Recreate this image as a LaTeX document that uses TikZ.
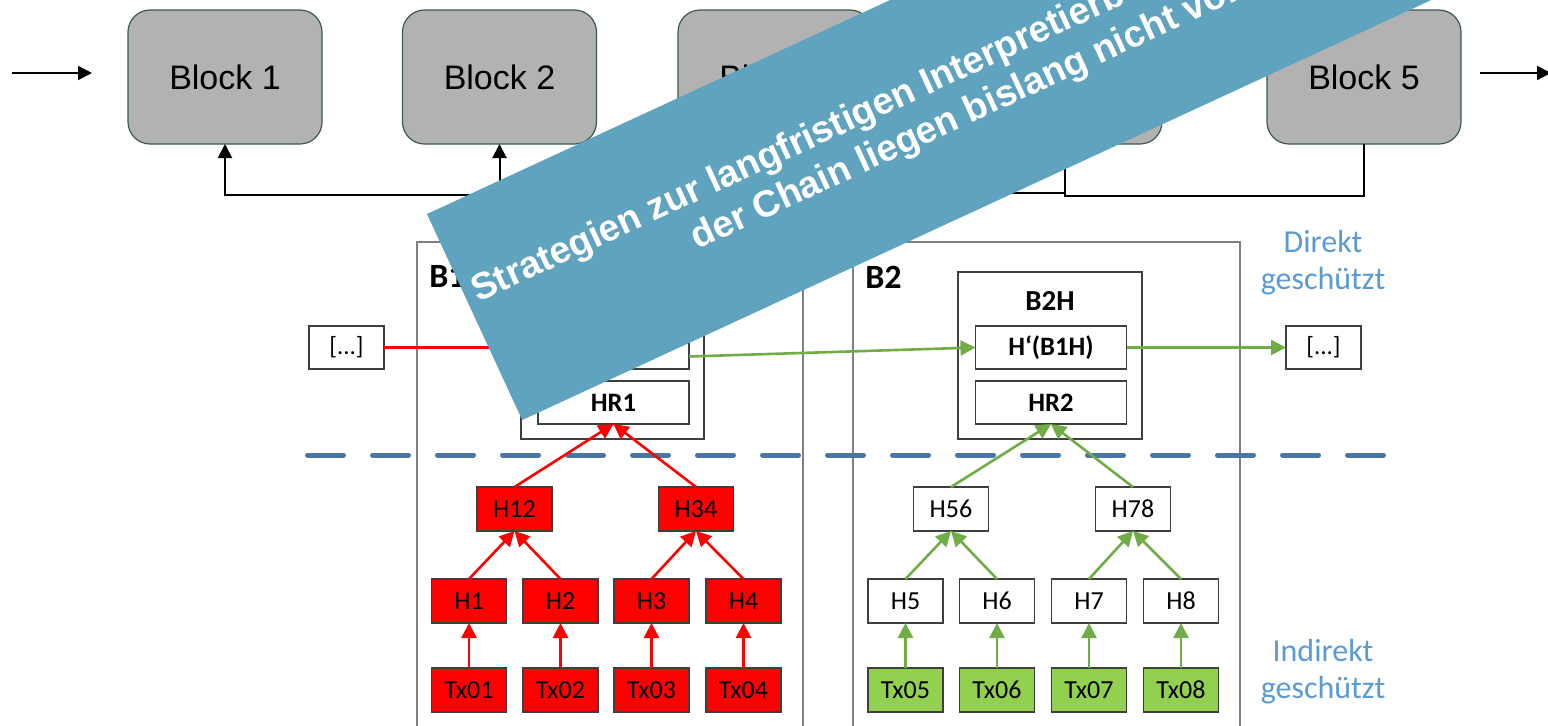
\documentclass[tikz,border=0pt]{standalone}
\usepackage{fontspec}
\setmainfont{Carlito}
\newfontfamily\arialf{Liberation Sans}
\usetikzlibrary{arrows.meta,calc}
\definecolor{blkgray}{HTML}{B2B2B2}
\definecolor{blkborder}{HTML}{3C5A4A}
\definecolor{bannerc}{HTML}{5FA3BF}
\definecolor{redc}{HTML}{FF0000}
\definecolor{greenl}{HTML}{70AD47}
\definecolor{greenf}{HTML}{92D050}
\definecolor{bluet}{HTML}{5B9BD5}
\definecolor{dashc}{HTML}{4A76A6}
\definecolor{outerc}{HTML}{7F7F7F}
\definecolor{innerc}{HTML}{3F3F3F}
\begin{document}
\begin{tikzpicture}[x=0.5pt,y=-0.5pt,
  blk/.style={draw=blkborder,line width=0.6pt,fill=blkgray,rounded corners=11pt,
    minimum width=97pt,minimum height=67pt,inner sep=0pt,outer sep=0pt,
    font=\arialf\fontsize{17}{20}\selectfont},
  blkarrow/.style={line width=1pt,-{Triangle[length=7pt,width=7pt]}},
  outerbox/.style={draw=outerc,line width=0.8pt,fill=white,inner sep=0pt,outer sep=0pt},
  innerbox/.style={draw=innerc,line width=0.8pt,fill=white,inner sep=0pt,outer sep=0pt},
  hbox/.style={draw=innerc,line width=0.8pt,fill=white,inner sep=0pt,outer sep=0pt,
    minimum width=75.5pt,minimum height=21.5pt,font=\bfseries\fontsize{13.3}{15}\selectfont},
  dots/.style={draw=innerc,line width=0.8pt,fill=white,inner sep=0pt,outer sep=0pt,
    minimum width=37.5pt,minimum height=21.5pt,font=\fontsize{12.5}{14}\selectfont},
  tbox/.style={draw=innerc,line width=0.6pt,inner sep=0pt,outer sep=0pt,
    minimum width=37.5pt,minimum height=22pt,font=\fontsize{13}{15}\selectfont},
  redbox/.style={tbox,fill=redc},
  whitebox/.style={tbox,fill=white},
  greenbox/.style={tbox,fill=greenf},
  redarrow/.style={draw=redc,line width=1.3pt,-{Triangle[length=7.5pt,width=7.5pt,fill=redc]}},
  greenarrow/.style={draw=greenl,line width=1.3pt,-{Triangle[length=7.5pt,width=7.5pt,fill=greenl]}},
  side/.style={text=bluet,align=center,font=\fontsize{16}{18.5}\selectfont},
  bannertext/.style={text=white,font=\arialf\bfseries\fontsize{18.7}{22}\selectfont,
    anchor=base west,inner sep=0pt,transform shape}
]
\useasboundingbox (0,0) rectangle (1548,725);
\clip (0,0) rectangle (1548,725);
\fill[white] (0,0) rectangle (1548,725);

% ---------- top chain ----------
\node[blk] (b1) at (225,77) {Block 1};
\node[blk] (b2) at (499.5,77) {Block 2};
\node[blk] (b3) at (775,77) {Block 3};
\node[blk] (b4) at (1065,77) {Block 4};
\node[blk] (b5) at (1364,77) {Block 5};
\coordinate (inL) at (12,73);
\coordinate (inR) at (92,73);
\coordinate (outL) at (1480,73);
\coordinate (outR) at (1551,73);
\draw[blkarrow] (inL) -- (inR);
\draw[blkarrow] (outL) -- (outR);
\draw[blkarrow] (b3.south) -- ++(0,51) -| (b1.south);
\draw[blkarrow] (b4.south) -- ++(0,49) -| (b2.south);
\draw[blkarrow] (b5.south) -- ++(0,52) -| (b4.south);

% ---------- containers ----------
\node[outerbox,minimum width=193pt,minimum height=255pt] (B1) at (610,497) {};
\node[outerbox,minimum width=193.5pt,minimum height=255pt] (B2) at (1046.5,497) {};
\node[anchor=base west,inner sep=0pt,font=\bfseries\fontsize{17}{20}\selectfont] (B1l) at (429,287) {B1};
\node[anchor=base west,inner sep=0pt,font=\bfseries\fontsize{17}{20}\selectfont] (B2l) at (865,288) {B2};

\node[innerbox,minimum width=91.5pt,minimum height=83.5pt] (B1H) at (612.5,355.5) {};
\node[hbox] (hb0) at (613.5,347.5) {};
\node[hbox] (hr1) at (613.5,402.5) {HR1};

\node[innerbox,minimum width=92pt,minimum height=83.5pt] (B2H) at (1050,355.5) {};
\node[font=\bfseries\fontsize{14.5}{16}\selectfont,inner sep=0pt] (B2Hl) at (1050,301) {B2H};
\node[hbox] (hb1) at (1051,347.5) {H‘(B1H)};
\node[hbox] (hr2) at (1051,402.5) {HR2};

\node[dots] (ld) at (346.5,347.5) {[...]};
\node[dots] (rd) at (1323.5,347.5) {[...]};

\draw[draw=redc,line width=1.3pt] (ld.east) -- (hb0.west);
\draw[greenarrow] ($(hb0.east)+(0,9)$) -- (hb1.west);
\draw[greenarrow] (hb1.east) -- (rd.west);

\node[side] (dir) at (1323,263) {Direkt\\geschützt};
\node[side] (ind) at (1323,672) {Indirekt\\geschützt};

% dashed separator
\coordinate (dA) at (307.5,455);
\coordinate (dB) at (1384,455);
\draw[dashc,line width=2.5pt,line cap=round,dash pattern=on 18pt off 14.5pt] (dA) -- (dB);

% ---------- red tree ----------
\node[redbox] (h12) at (514.5,509) {H12};
\node[redbox] (h34) at (696,509) {H34};
\node[redbox] (h1) at (469,601) {H1};
\node[redbox] (h2) at (560.5,601) {H2};
\node[redbox] (h3) at (651.5,601) {H3};
\node[redbox] (h4) at (743.5,601) {H4};
\node[redbox] (t1) at (469,690) {Tx01};
\node[redbox] (t2) at (560.5,690) {Tx02};
\node[redbox] (t3) at (651.5,690) {Tx03};
\node[redbox] (t4) at (743.5,690) {Tx04};
\foreach \a/\b in {t1/h1,t2/h2,t3/h3,t4/h4,h1/h12,h2/h12,h3/h34,h4/h34,h12/hr1,h34/hr1}
  \draw[redarrow] (\a.north) -- (\b.south);

% ---------- green tree ----------
\node[whitebox] (h56) at (951,509) {H56};
\node[whitebox] (h78) at (1133,509) {H78};
\node[whitebox] (h5) at (905.5,601) {H5};
\node[whitebox] (h6) at (997,601) {H6};
\node[whitebox] (h7) at (1089,601) {H7};
\node[whitebox] (h8) at (1181,601) {H8};
\node[greenbox] (t5) at (905.5,690) {Tx05};
\node[greenbox] (t6) at (997,690) {Tx06};
\node[greenbox] (t7) at (1089,690) {Tx07};
\node[greenbox] (t8) at (1181,690) {Tx08};
\foreach \a/\b in {t5/h5,t6/h6,t7/h7,t8/h8,h5/h56,h6/h56,h7/h78,h8/h78,h56/hr2,h78/hr2}
  \draw[greenarrow] (\a.north) -- (\b.south);

% ---------- banner ----------
\begin{scope}[shift={(427,214)},rotate=24.8]
  \fill[bannerc] (0,0) rectangle (2600,227);
  \node[bannertext] (bt1) at (9,102) {Strategien zur langfristigen Interpretierbarkeit};
  \node[bannertext] (bt2) at (230,146) {der Chain liegen bislang nicht vor};
\end{scope}
\end{tikzpicture}
\end{document}
